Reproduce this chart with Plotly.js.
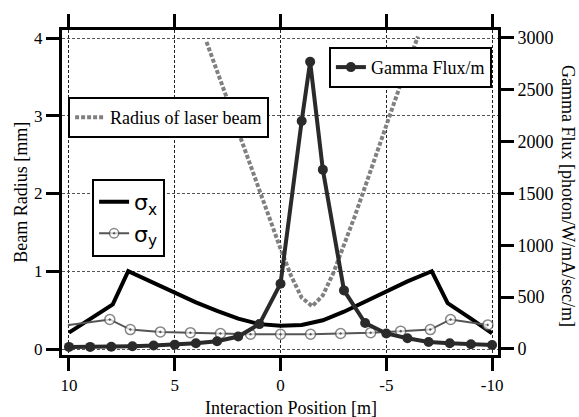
<!DOCTYPE html>
<html>
<head>
<meta charset="utf-8">
<script src="https://cdn.plot.ly/plotly-3.0.1.min.js"></script>
<style>html,body{margin:0;padding:0;background:#fff;}#chart{width:579px;height:417px;}</style>
</head>
<body>
<div id="chart"></div>
<script>
// Laser beam radius [mm]
const xLaser = [3.5, 3, 2.5, 2, 1.5, 1, 0.5, 0, -0.5, -1, -1.5, -2, -2.5, -3, -3.5, -4, -4.5, -5, -5.5, -6, -6.5];
const rLaser = [3.95, 3.58, 3.2, 2.8, 2.42, 2.03, 1.66, 1.29, 0.94, 0.66, 0.55, 0.69, 0.98, 1.33, 1.70, 2.09, 2.49, 2.88, 3.28, 3.66, 4.02];

// sigma_x [mm]
const xSigX = [10, 9, 7.93, 7.2, 6, 5, 4, 3, 2, 1, 0, -1, -2, -3, -4, -5, -6, -7.15, -7.9, -9, -10];
const sigX  = [0.21, 0.39, 0.575, 1.0, 0.85, 0.72, 0.60, 0.49, 0.39, 0.32, 0.30, 0.31, 0.37, 0.48, 0.61, 0.75, 0.87, 1.0, 0.59, 0.39, 0.20];

// sigma_y [mm]
const xSigY = [10, 8.07, 7.1, 5.68, 4.26, 2.84, 1.42, 0, -1.42, -2.84, -4.26, -5.68, -7.08, -8.04, -9.8];
const sigY  = [0.31, 0.38, 0.25, 0.22, 0.21, 0.20, 0.19, 0.19, 0.19, 0.20, 0.21, 0.23, 0.25, 0.38, 0.31];

// Gamma flux per metre [photon/W/mA/sec/m]
const xFlux = [10, 9, 8, 7, 6, 5, 4, 3, 2, 1, 0, -1, -1.4, -2, -3, -4, -5, -6, -7, -8, -9, -10];
const flux  = [20, 20, 22, 27, 33, 42, 55, 75, 120, 240, 630, 2200, 2770, 1730, 565, 250, 150, 103, 68, 55, 45, 39];

const xTicks = [10, 5, 0, -5, -10];
const yTicks = [0, 1, 2, 3, 4];
const y2Ticks = [0, 500, 1000, 1500, 2000, 2500, 3000];

const serif = 'Liberation Serif, Times New Roman, serif';

const traces = [
  {x: xLaser, y: rLaser, type: 'scatter', mode: 'lines', name: 'Radius of laser beam',
   line: {color: '#808080', width: 4, dash: '4px,2px'}, legend: 'legend'},
  {x: xSigX, y: sigX, type: 'scatter', mode: 'lines', name: 'σ<sub>x</sub>',
   line: {color: '#000', width: 4}, legend: 'legend2'},
  {x: xSigY, y: sigY, type: 'scatter', mode: 'lines+markers', name: 'σ<sub>y</sub>',
   line: {color: '#555', width: 2},
   marker: {symbol: 'circle-dot', size: xSigY.map((v, i) => i === 0 ? 0 : 10), color: '#fff', line: {color: '#555', width: 1.5}},
   legend: 'legend2'},
  {x: xFlux, y: flux, type: 'scatter', mode: 'lines+markers', name: 'Gamma Flux/m', yaxis: 'y2',
   line: {color: '#2a2a2a', width: 4}, marker: {symbol: 'circle', size: 10, color: '#2a2a2a'},
   legend: 'legend3'}
];

const legendBase = {bgcolor: '#fff', bordercolor: '#000', borderwidth: 2, font: {family: serif, size: 18, color: '#000'}};

const layout = {
  width: 579, height: 417,
  margin: {l: 62, r: 81, t: 30, b: 62},
  paper_bgcolor: '#fff', plot_bgcolor: '#fff',
  font: {family: serif, size: 17, color: '#000'},
  xaxis: {range: [10.33, -10.28], tickvals: xTicks, ticktext: xTicks.map(String),
    showline: true, linewidth: 3, linecolor: '#000', mirror: 'ticks',
    ticks: 'outside', ticklen: 13, tickwidth: 3, tickcolor: '#000',
    showgrid: true, gridcolor: '#222', gridwidth: 1, griddash: '3px,2px', zeroline: false,
    tickfont: {family: serif, size: 17}},
  yaxis: {range: [-0.077, 4.103], tickvals: yTicks, ticktext: yTicks.map(String),
    showline: true, linewidth: 3, linecolor: '#000', mirror: true,
    ticks: 'outside', ticklen: 13, tickwidth: 3, tickcolor: '#000',
    showgrid: true, gridcolor: '#555', gridwidth: 1, griddash: '3px,2px', zeroline: false,
    tickfont: {family: serif, size: 17}},
  yaxis2: {range: [-58, 3077], overlaying: 'y', side: 'right', tickvals: y2Ticks, ticktext: y2Ticks.map(String),
    showline: true, linewidth: 3, linecolor: '#000',
    ticks: 'outside', ticklen: 13, tickwidth: 3, tickcolor: '#000',
    showgrid: false, zeroline: false, tickfont: {family: serif, size: 18}},
  showlegend: true,
  legend: Object.assign({}, legendBase, {x: 0.014, y: 0.794, xanchor: 'left', yanchor: 'top'}),
  legend2: Object.assign({}, legendBase, {x: 0.069, y: 0.542, xanchor: 'left', yanchor: 'top',
    font: {family: 'DejaVu Sans, sans-serif', size: 22, color: '#000'}}),
  legend3: Object.assign({}, legendBase, {x: 0.986, y: 0.948, xanchor: 'right', yanchor: 'top'}),
  annotations: [
    {text: 'Interaction Position [m]', xref: 'paper', yref: 'paper', x: 0.525, y: -0.163,
     xanchor: 'center', yanchor: 'middle', showarrow: false, font: {family: serif, size: 18}},
    {text: 'Beam Radius [mm]', xref: 'paper', yref: 'paper', x: -0.096, y: 0.5,
     xanchor: 'center', yanchor: 'middle', textangle: -90, showarrow: false, font: {family: serif, size: 18}},
    {text: 'Gamma Flux [photon/W/mA/sec/m]', xref: 'paper', yref: 'paper', x: 1.16, y: 0.49,
     xanchor: 'center', yanchor: 'middle', textangle: 90, showarrow: false, font: {family: serif, size: 18}}
  ]
};

Plotly.newPlot('chart', traces, layout, {displayModeBar: false, staticPlot: true});
</script>
</body>
</html>
